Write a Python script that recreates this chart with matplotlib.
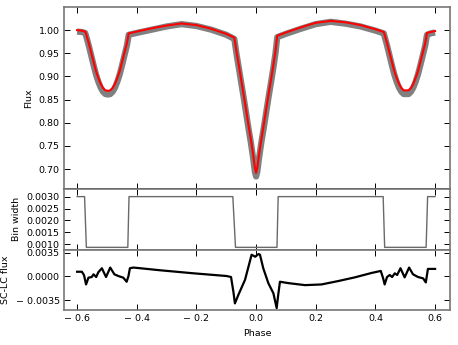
import matplotlib
matplotlib.use('Agg')
import matplotlib.pyplot as plt
from matplotlib.ticker import FixedLocator, FuncFormatter

# Phase-folded light curve: model (red) and observed band (gray)
phase_lc = [-0.600, -0.585, -0.573, -0.569, -0.561, -0.553, -0.545, -0.537, -0.529,
            -0.521, -0.513, -0.505, -0.497, -0.489, -0.481, -0.473, -0.465, -0.457,
            -0.449, -0.441, -0.433, -0.427, -0.400, -0.350, -0.300, -0.250, -0.200,
            -0.150, -0.100, -0.073, -0.066, -0.058, -0.050, -0.042, -0.034, -0.026,
            -0.018, -0.010, -0.004, 0.000, 0.004, 0.010, 0.018, 0.026, 0.034, 0.042,
            0.050, 0.058, 0.065, 0.071, 0.100, 0.150, 0.200, 0.250, 0.300, 0.350,
            0.400, 0.428, 0.431, 0.439, 0.447, 0.455, 0.463, 0.471, 0.479, 0.487,
            0.495, 0.503, 0.511, 0.519, 0.527, 0.535, 0.543, 0.551, 0.559, 0.567,
            0.573, 0.585, 0.600]
flux_model = [1.000, 0.999, 0.997, 0.990, 0.972, 0.952, 0.932, 0.912, 0.897,
              0.884, 0.875, 0.870, 0.869, 0.870, 0.875, 0.884, 0.897, 0.912,
              0.932, 0.952, 0.972, 0.993, 0.997, 1.004, 1.010, 1.0145, 1.011,
              1.003, 0.992, 0.984, 0.955, 0.925, 0.893, 0.862, 0.830, 0.797,
              0.766, 0.732, 0.703, 0.692, 0.703, 0.732, 0.766, 0.797, 0.830, 0.862,
              0.893, 0.925, 0.955, 0.988, 0.995, 1.006, 1.016, 1.020, 1.017, 1.011,
              1.002, 0.996, 0.990, 0.972, 0.952, 0.932, 0.912, 0.897, 0.884, 0.875,
              0.870, 0.870, 0.870, 0.875, 0.884, 0.897, 0.912, 0.932, 0.952, 0.972,
              0.994, 0.996, 0.998]
flux_obs = [0.997, 0.996, 0.994, 0.986, 0.967, 0.946, 0.925, 0.905, 0.889,
            0.876, 0.867, 0.862, 0.861, 0.862, 0.867, 0.876, 0.889, 0.905,
            0.925, 0.946, 0.967, 0.990, 0.994, 1.001, 1.008, 1.013, 1.009,
            1.001, 0.990, 0.981, 0.950, 0.919, 0.887, 0.856, 0.823, 0.790,
            0.759, 0.724, 0.694, 0.684, 0.694, 0.724, 0.759, 0.790, 0.823, 0.856,
            0.887, 0.919, 0.950, 0.985, 0.992, 1.003, 1.013, 1.018, 1.014, 1.008,
            0.999, 0.993, 0.986, 0.967, 0.946, 0.925, 0.905, 0.889, 0.876, 0.867,
            0.862, 0.862, 0.862, 0.867, 0.876, 0.889, 0.905, 0.925, 0.946, 0.967,
            0.990, 0.993, 0.995]

# Bin width (step function)
phase_bin = [-0.600, -0.575, -0.569, -0.430, -0.426, -0.078, -0.069, 0.070, 0.074,
             0.426, 0.431, 0.570, 0.575, 0.600]
bin_width = [0.0030, 0.0030, 0.00087, 0.00087, 0.0030, 0.0030, 0.00087, 0.00087,
             0.0030, 0.0030, 0.00087, 0.00087, 0.0030, 0.0030]

# Short cadence minus long cadence flux
phase_diff = [-0.600, -0.584, -0.577, -0.570, -0.562, -0.551, -0.545, -0.536, -0.529,
              -0.517, -0.503, -0.489, -0.475, -0.462, -0.445, -0.434, -0.428, -0.423,
              -0.411, -0.322, -0.210, -0.099, -0.084, -0.076, -0.071, -0.060, -0.037,
              -0.015, -0.003, 0.008, 0.013, 0.024, 0.041, 0.058, 0.069, 0.074, 0.080,
              0.108, 0.164, 0.219, 0.275, 0.331, 0.387, 0.418, 0.426, 0.431, 0.439,
              0.448, 0.456, 0.465, 0.473, 0.484, 0.498, 0.513, 0.526, 0.543, 0.560,
              0.569, 0.576, 0.588, 0.600]
sc_lc = [0.00068, 0.00068, 0.0002, -0.0012, -0.0002, -0.0001, 0.0003, -0.0001, 0.0006,
         0.0012, -0.0001, 0.0013, 0.0003, 0.00005, -0.0002, -0.0008, 0.0000, 0.0012,
         0.0013, 0.0009, 0.00045, 0.00005, -0.0001, -0.0023, -0.0040, -0.0028, -0.0005,
         0.0032, 0.0029, 0.0033, 0.0032, 0.0012, -0.0010, -0.0025, -0.0047, -0.0028, -0.0008,
         -0.0010, -0.0013, -0.0012, -0.0007, -0.00015, 0.0005, 0.0008, -0.0003, -0.0012, -0.0001,
         0.0002, -0.0001, 0.00045, 0.0002, 0.0012, -0.00015, 0.0013, 0.0003, -0.0001, -0.0003,
         -0.0009, 0.0011, 0.0011, 0.0011]

xticks = [-0.6, -0.4, -0.2, 0.0, 0.2, 0.4, 0.6]


def fmt(decimals):
    def f(v, pos):
        s = f'{abs(v):.{decimals}f}'
        return ('\u2212 ' + s) if v < -1e-12 else s
    return FuncFormatter(f)


plt.rcParams['font.family'] = 'DejaVu Sans'
plt.rcParams['font.size'] = 6.8

fig = plt.figure(figsize=(4.58, 3.45), dpi=100)
left, width = 0.1397, 0.8428
ax1 = fig.add_axes([left, 0.4522, width, 0.5275])
ax2 = fig.add_axes([left, 0.2768, width, 0.1754])
ax3 = fig.add_axes([left, 0.1014, width, 0.1754])

ax1.plot(phase_lc, flux_obs, color='gray', lw=4.5, solid_capstyle='butt', zorder=1)
ax1.plot(phase_lc, flux_model, color='red', lw=1.5, zorder=2)
ax1.set_ylim(0.657, 1.05)
ax1.yaxis.set_major_locator(FixedLocator([0.70, 0.75, 0.80, 0.85, 0.90, 0.95, 1.00]))
ax1.yaxis.set_major_formatter(fmt(2))
ax1.set_ylabel('Flux')

ax2.plot(phase_bin, bin_width, color='dimgray', lw=1.0)
ax2.set_ylim(0.00078, 0.00332)
ax2.yaxis.set_major_locator(FixedLocator([0.0010, 0.0015, 0.0020, 0.0025, 0.0030]))
ax2.yaxis.set_major_formatter(fmt(4))
ax2.set_ylabel('Bin width')

ax3.plot(phase_diff, sc_lc, color='black', lw=1.6)
ax3.set_ylim(-0.00498, 0.00397)
ax3.yaxis.set_major_locator(FixedLocator([-0.0035, 0.0, 0.0035]))
ax3.yaxis.set_major_formatter(fmt(4))
ax3.set_ylabel('SC-LC flux')
ax3.set_xlabel('Phase')

for ax in (ax1, ax2, ax3):
    ax.set_xlim(-0.644, 0.65)
    ax.xaxis.set_major_locator(FixedLocator(xticks))
    ax.xaxis.set_major_formatter(fmt(1))
    ax.tick_params(direction='in', length=4, width=0.7, top=True, right=True,
                   color='black', labelsize=6.8, pad=3)
    for sp in ax.spines.values():
        sp.set_color('#777777')
        sp.set_linewidth(1.2)
ax1.spines['bottom'].set_color('black')
ax1.tick_params(labelbottom=False)
ax2.tick_params(labelbottom=False)

fig.savefig('out.png', dpi=100)
